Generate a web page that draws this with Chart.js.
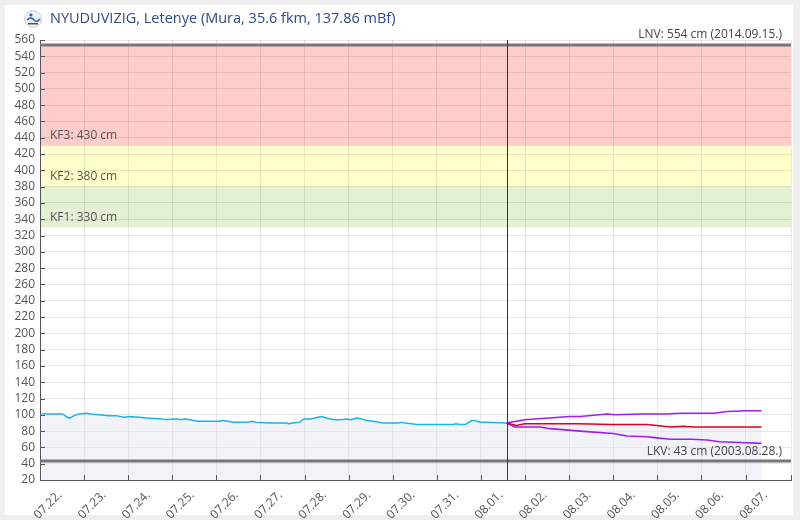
<!DOCTYPE html>
<html lang="hu">
<head>
<meta charset="UTF-8">
<title>NYUDUVIZIG, Letenye</title>
<script src="https://cdn.jsdelivr.net/npm/chart.js@4"></script>
<style>
  html, body { margin: 0; padding: 0; background: #eeeeee; }
  #chart { display: block; }
</style>
</head>
<body>
<canvas id="chart" width="800" height="520"></canvas>
<script>
// napok 07.22. 00:00-tól számítva
const tickLabels = ['07.22.', '07.23.', '07.24.', '07.25.', '07.26.', '07.27.', '07.28.', '07.29.', '07.30.', '07.31.',
                    '08.01.', '08.02.', '08.03.', '08.04.', '08.05.', '08.06.', '08.07.'];

// mért vízállás (cm)
const obsDays = [0.04, 0.51, 0.62, 0.68, 0.77, 0.89, 1.05, 1.15, 1.34, 1.57, 1.72, 1.91, 2.02, 2.25, 2.40, 2.77, 2.86,
                 3.00, 3.12, 3.20, 3.29, 3.39, 3.58, 4.07, 4.14, 4.26, 4.37, 4.71, 4.79, 4.90, 5.20, 5.28, 5.58, 5.64,
                 5.73, 5.89, 5.98, 6.15, 6.30, 6.39, 6.49, 6.68, 6.83, 6.95, 7.06, 7.18, 7.29, 7.40, 7.55, 7.78, 7.93,
                 8.01, 8.12, 8.20, 8.27, 8.43, 8.54, 8.77, 8.99, 9.37, 9.43, 9.52, 9.64, 9.79, 9.86, 9.98, 10.13, 10.58];
const obsLevel = [101, 101, 97, 96, 99, 101, 102, 101, 100, 99, 99, 97, 98, 97, 96, 95, 94,
                  95, 95, 94, 95, 94, 92, 92, 93, 92, 91, 91, 92, 91, 90, 90, 90, 89,
                  90, 91, 95, 95, 97, 98, 96, 94, 94, 95, 94, 96, 95, 93, 92, 90, 90,
                  90, 90, 91, 90, 89, 88, 88, 88, 88, 89, 88, 88, 93, 93, 91, 91, 90];

// előrejelzés és sávja
const fcDays = [10.58, 10.80, 10.99, 12.20, 13.00, 13.77, 14.30, 14.59, 14.82, 16.36];
const fcLevel = [90, 87, 89, 89, 88, 88, 85, 86, 85, 85];
const hiDays = [10.58, 10.99, 12.02, 12.25, 12.86, 13.05, 13.61, 14.22, 14.52, 15.28, 15.58, 16.04, 16.36];
const hiLevel = [90, 94, 98, 98, 101, 100, 101, 101, 102, 102, 104, 105, 105];
const loDays = [10.58, 10.77, 11.34, 11.57, 12.25, 13.00, 13.31, 13.77, 13.93, 14.30, 14.77, 15.13, 15.41, 15.86, 16.36];
const loLevel = [90, 85, 85, 83, 80, 77, 74, 73, 72, 70, 70, 69, 67, 66, 65];

// küszöbök
const nowDay = 10.59;
const alertLevels = [430, 380, 330];
const alertLabels = ['KF3: 430 cm', 'KF2: 380 cm', 'KF1: 330 cm'];
const lnv = 554, lkv = 43;
const lnvLabel = 'LNV: 554 cm (2014.09.15.)';
const lkvLabel = 'LKV: 43 cm (2003.08.28.)';
const titleText = 'NYUDUVIZIG, Letenye (Mura, 35.6 fkm, 137.86 mBf)';

const FONT = '"Open Sans", "DejaVu Sans", sans-serif';
const toXY = (xs, ys) => xs.map((x, i) => ({ x: x, y: ys[i] }));

const decor = {
    id: 'decor',
    beforeDraw(chart) {
        const { ctx, chartArea: a, scales: { y } } = chart;
        ctx.save();
        ctx.fillStyle = '#ffffff';
        ctx.fillRect(5, 5, 788, 510);
        const bands = [[alertLevels[0], lnv, '#ffcccc'], [alertLevels[1], alertLevels[0], '#ffffcc'], [alertLevels[2], alertLevels[1], '#e3f0d3']];
        bands.forEach(([lo, hi, c]) => {
            const top = y.getPixelForValue(hi), bot = y.getPixelForValue(lo);
            ctx.fillStyle = c;
            ctx.fillRect(a.left, top, a.right - a.left, bot - top);
        });
        ctx.restore();
    },
    beforeDatasetsDraw(chart) {
        const { ctx, chartArea: a, scales: { y } } = chart;
        ctx.save();
        ctx.font = '12px ' + FONT;
        ctx.fillStyle = '#555';
        ctx.textBaseline = 'middle';
        alertLevels.forEach((v, i) => {
            ctx.fillText(alertLabels[i], a.left + 10, y.getPixelForValue(v) - 10);
        });
        ctx.restore();
    },
    afterDatasetsDraw(chart) {
        const { ctx, chartArea: a, scales: { x, y } } = chart;
        ctx.save();
        // LNV / LKV
        ctx.strokeStyle = '#777';
        ctx.lineWidth = 3;
        [lnv, lkv].forEach(v => {
            const py = Math.round(y.getPixelForValue(v));
            ctx.beginPath();
            ctx.moveTo(a.left, py);
            ctx.lineTo(a.right, py);
            ctx.stroke();
        });
        ctx.font = '12px ' + FONT;
        ctx.fillStyle = '#444';
        ctx.textAlign = 'right';
        ctx.textBaseline = 'middle';
        ctx.fillText(lnvLabel, a.right - 9, y.getPixelForValue(lnv) - 10);
        ctx.fillText(lkvLabel, a.right - 9, y.getPixelForValue(lkv) - 10);
        // most
        const nx = Math.round(x.getPixelForValue(nowDay)) + 0.5;
        ctx.strokeStyle = '#333';
        ctx.lineWidth = 1;
        ctx.beginPath();
        ctx.moveTo(nx, a.top);
        ctx.lineTo(nx, a.bottom);
        ctx.stroke();
        // belső osztásjelek
        ctx.strokeStyle = '#555';
        ctx.beginPath();
        x.ticks.forEach(t => {
            const px = Math.round(x.getPixelForValue(t.value)) + 0.5;
            ctx.moveTo(px, a.bottom);
            ctx.lineTo(px, a.bottom - 5);
        });
        y.ticks.forEach(t => {
            const py = Math.round(y.getPixelForValue(t.value)) + 0.5;
            ctx.moveTo(a.left, py);
            ctx.lineTo(a.left + 5, py);
        });
        ctx.stroke();
        ctx.restore();
    },
    afterDraw(chart) {
        const { ctx } = chart;
        ctx.save();
        // logó
        ctx.beginPath();
        ctx.arc(33, 19, 8.5, 0, Math.PI * 2);
        ctx.fillStyle = '#eef2f8';
        ctx.fill();
        ctx.strokeStyle = '#c9d3e3';
        ctx.lineWidth = 1;
        ctx.stroke();
        ctx.strokeStyle = '#2a62b8';
        ctx.lineWidth = 1.6;
        ctx.beginPath();
        ctx.moveTo(27, 20);
        ctx.quadraticCurveTo(31, 16, 34, 20);
        ctx.quadraticCurveTo(37, 23, 40, 19);
        ctx.stroke();
        ctx.beginPath();
        ctx.arc(31, 15, 1.6, 0, Math.PI * 2);
        ctx.fillStyle = '#2a62b8';
        ctx.fill();
        ctx.fillStyle = '#555';
        ctx.fillRect(28, 23, 10, 1.5);
        // cím
        ctx.font = '14.5px ' + FONT;
        ctx.fillStyle = '#2b4a86';
        ctx.textBaseline = 'middle';
        ctx.fillText(titleText, 50, 19);
        ctx.restore();
    }
};

new Chart(document.getElementById('chart'), {
    type: 'line',
    data: {
        datasets: [
            {
                label: 'Vízállás',
                data: toXY(obsDays, obsLevel),
                borderColor: '#1ab3ec',
                borderWidth: 1.5,
                backgroundColor: 'rgba(220, 224, 240, 0.4)',
                fill: 'start'
            },
            {
                label: 'Előrejelzés',
                data: toXY(fcDays, fcLevel),
                borderColor: '#e0001b',
                borderWidth: 1.5,
                backgroundColor: 'rgba(220, 224, 240, 0.4)',
                fill: 'start'
            },
            {
                label: 'Felső',
                data: toXY(hiDays, hiLevel),
                borderColor: '#a11cf2',
                borderWidth: 1.6,
                fill: false
            },
            {
                label: 'Alsó',
                data: toXY(loDays, loLevel),
                borderColor: '#a11cf2',
                borderWidth: 1.6,
                fill: false
            }
        ]
    },
    options: {
        responsive: false,
        animation: false,
        layout: { padding: { top: 40, right: 9, left: 0, bottom: 0 } },
        elements: { point: { radius: 0 }, line: { tension: 0 } },
        plugins: {
            legend: { display: false },
            tooltip: { enabled: false },
            filler: { drawTime: 'beforeDatasetsDraw' }
        },
        scales: {
            x: {
                type: 'linear',
                min: 0,
                max: 17.03,
                afterFit(scale) {
                    scale.height = 40;
                    scale.paddingLeft = 0;
                    scale.paddingRight = 0;
                },
                grid: { color: 'rgba(0,0,0,0.09)', tickLength: 0 },
                border: { color: '#555' },
                ticks: {
                    stepSize: 1,
                    autoSkip: false,
                    minRotation: 45,
                    maxRotation: 45,
                    labelOffset: 20,
                    padding: 8,
                    color: '#555',
                    font: { family: FONT, size: 12 },
                    callback: v => tickLabels[v] || ''
                }
            },
            y: {
                min: 20,
                max: 560,
                afterFit(scale) {
                    scale.width = 40;
                    scale.paddingTop = 0;
                    scale.paddingBottom = 0;
                },
                grid: { color: 'rgba(0,0,0,0.09)', tickLength: 0 },
                border: { color: '#555' },
                ticks: {
                    stepSize: 20,
                    autoSkip: false,
                    padding: 5,
                    color: '#555',
                    font: { family: FONT, size: 12 }
                }
            }
        }
    },
    plugins: [decor]
});
</script>
</body>
</html>
